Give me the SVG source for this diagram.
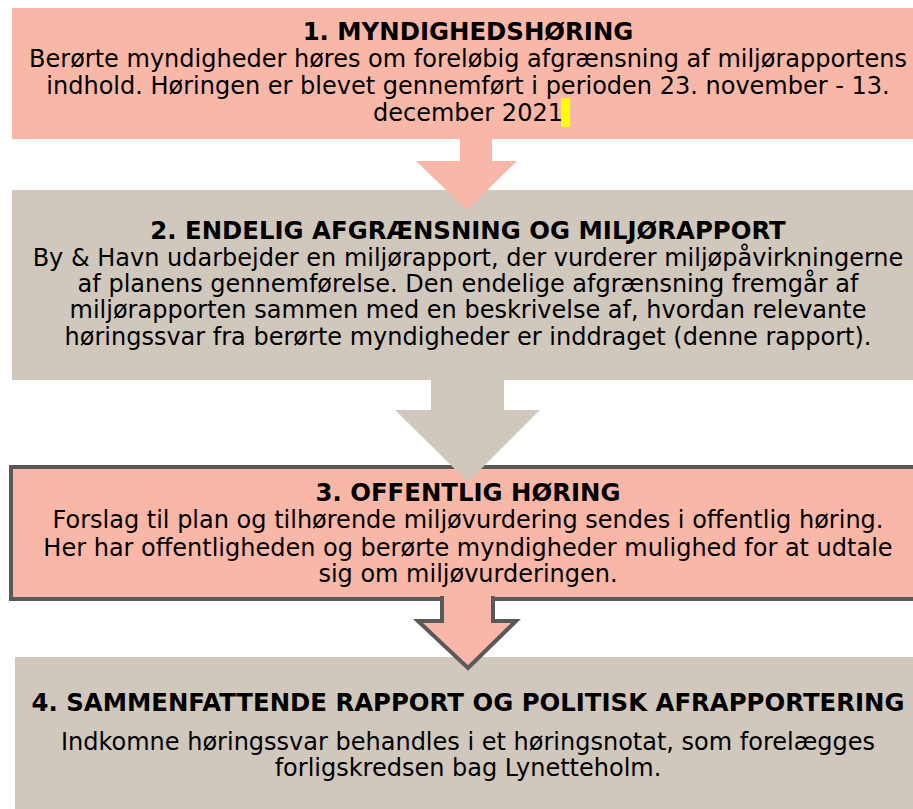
<svg xmlns="http://www.w3.org/2000/svg" width="913" height="809" viewBox="0 0 913 809">
<style>
.pink{fill:#F8B7A7}
.grey{fill:#D0C8BD}
.t{font-family:"DejaVu Sans",Verdana,sans-serif;font-size:24px;fill:#000;text-anchor:middle}
.b{font-weight:bold;font-size:24.4px}
.out{stroke:#595959;stroke-width:4;stroke-linejoin:miter}
</style>
<rect width="913" height="809" fill="#fff"/>
<g id="node1">
<rect class="pink" x="12" y="8" width="910" height="131"/>
<rect x="561" y="98" width="9" height="29" fill="#FFFF00"/>
<text class="t b" x="468" y="40">1. MYNDIGHEDSHØRING</text>
<text class="t" x="468" y="67">Berørte myndigheder høres om foreløbig afgrænsning af miljørapportens</text>
<text class="t" x="468" y="94">indhold. Høringen er blevet gennemført i perioden 23. november - 13.</text>
<text class="t" x="468" y="121">december 2021</text>
</g>
<g id="node2">
<rect class="grey" x="12" y="190" width="910" height="190"/>
<text class="t b" x="468" y="239">2. ENDELIG AFGRÆNSNING OG MILJØRAPPORT</text>
<text class="t" x="468" y="266">By &amp; Havn udarbejder en miljørapport, der vurderer miljøpåvirkningerne</text>
<text class="t" x="468" y="292">af planens gennemførelse. Den endelige afgrænsning fremgår af</text>
<text class="t" x="468" y="318">miljørapporten sammen med en beskrivelse af, hvordan relevante</text>
<text class="t" x="468" y="345">høringssvar fra berørte myndigheder er inddraget (denne rapport).</text>
</g>
<g id="node3">
<rect class="pink out" x="11" y="467" width="915" height="132"/>
<text class="t b" x="468" y="501">3. OFFENTLIG HØRING</text>
<text class="t" x="468" y="528">Forslag til plan og tilhørende miljøvurdering sendes i offentlig høring.</text>
<text class="t" x="468" y="556">Her har offentligheden og berørte myndigheder mulighed for at udtale</text>
<text class="t" x="468" y="582">sig om miljøvurderingen.</text>
</g>
<g id="node4">
<rect class="grey" x="15" y="657" width="910" height="160"/>
<text class="t b" x="468" y="711">4. SAMMENFATTENDE RAPPORT OG POLITISK AFRAPPORTERING</text>
<text class="t" x="468" y="750">Indkomne høringssvar behandles i et høringsnotat, som forelægges</text>
<text class="t" x="468" y="776">forligskredsen bag Lynetteholm.</text>
</g>
<g id="connectors">
<path class="pink" d="M460,138 V161 H416 L467,210 L517,161 H492 V138 Z"/>
<path class="grey" d="M431,379 V410 H395 L468,482 L540,410 H504 V379 Z"/>
<path class="pink out" d="M442,596 V621 H418 L468,668 L516,621 H493 V596"/>
</g>
</svg>
